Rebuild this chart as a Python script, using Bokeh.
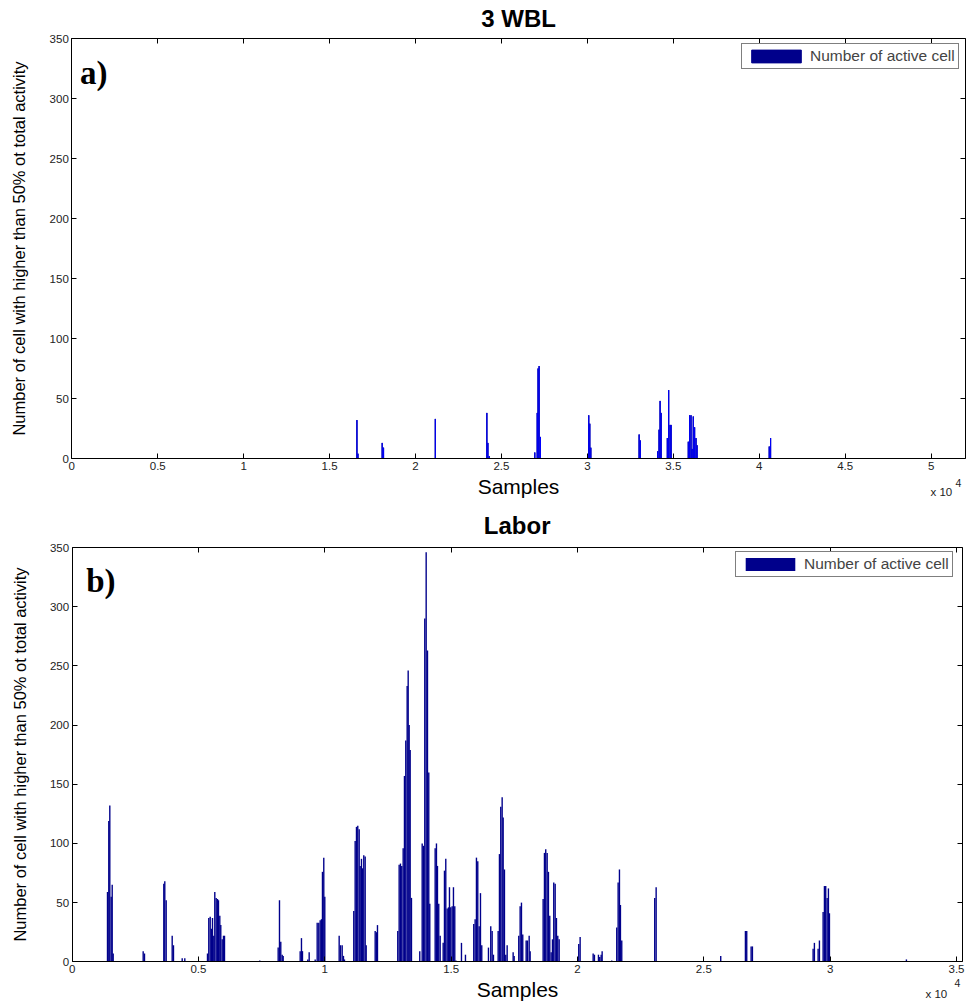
from bokeh.plotting import figure
from bokeh.models import (ColumnDataSource, Range1d, FixedTicker, LinearAxis,
                          Legend, LegendItem, Label, CustomLabelingPolicy)
from bokeh.layouts import column
from bokeh.embed import file_html
from bokeh.resources import INLINE

# ---------------- data ----------------
# Panel a) 3 WBL
wbl_samples = [16590, 16650, 18060, 18140, 21150, 24150, 24210, 24290,
               26940, 27080, 27130, 27190, 27270, 30080, 30140, 30200,
               33010, 33080, 34090, 34170, 34230, 34290, 34650, 34730,
               34810, 34870, 35870, 35950, 36030, 36090, 36160, 36240,
               36320, 36380, 40580, 40660]
wbl_counts = [32, 4, 13, 9, 33, 38, 13, 2,
              5, 38, 75, 77, 18, 36, 29, 9,
              20, 15, 6, 24, 48, 38, 17, 57,
              28, 28, 14, 36, 36, 8, 35, 26,
              17, 11, 10, 17]

# Panel b) Labor
labor_samples = [1401, 1452, 1492, 1547, 1587, 1626,
                 2813, 2865,
                 3629, 3668, 3723,
                 3961, 4012,
                 4357, 4460,
                 5358, 5409, 5465, 5516, 5556, 5607, 5647, 5702, 5754, 5793,
                 5845, 5884, 5940, 5991, 6031,
                 7427,
                 8155, 8207, 8258, 8314, 8353,
                 9026, 9077, 9117,
                 9327, 9382,
                 9620, 9699, 9762, 9818, 9869, 9908, 9960, 10000,
                 10569, 10621, 10688, 10739, 10779,
                 11147, 11202, 11254, 11305, 11361, 11400, 11452, 11491, 11543,
                 11598, 11638,
                 11994, 12045, 12085,
                 12888, 12943, 12995, 13046, 13102, 13153, 13205, 13260, 13300,
                 13339, 13379, 13430,
                 13759, 13854, 13905, 13957, 14012, 14064, 14115, 14155,
                 14368, 14419, 14459, 14510, 14566,
                 14685, 14736, 14788, 14843, 14895, 14934, 14985, 15041, 15092,
                 15144, 15190,
                 15409, 15567,
                 15895, 15950, 16002, 16054, 16109, 16161, 16212,
                 16477, 16568, 16623, 16675,
                 16861, 16912, 16964, 17019, 17059, 17110, 17162, 17217,
                 17454, 17494,
                 17676, 17731, 17783, 17834,
                 17969, 18020, 18088, 18127,
                 18641, 18693, 18744, 18800, 18851, 18903, 18958, 19010, 19061,
                 19117, 19168, 19220, 19275,
                 20050, 20105,
                 20620, 20671, 20830, 20881, 20937, 20976,
                 21356,
                 21554, 21609, 21661, 21700, 21752,
                 23057, 23113,
                 25669,
                 26646, 26698, 26872, 26923,
                 29325, 29376, 29523, 29575,
                 29721, 29773, 29824, 29880, 29931, 29971,
                 33017]
labor_counts = [59, 119, 132, 55, 65, 7,
                9, 7,
                66, 68, 52,
                22, 14,
                3, 3,
                7, 37, 38, 28, 37, 22, 59, 54, 53, 52,
                39, 31, 19, 22, 22,
                1,
                12, 52, 17, 6, 5,
                9, 20, 9,
                2, 8,
                2, 33, 33, 35, 36, 76, 88, 55,
                22, 14, 14, 5, 2,
                43, 102, 114, 115, 112, 81, 87, 79, 90,
                89, 14,
                26, 25, 31,
                26, 82, 83, 81, 96, 157, 187, 233, 246,
                200, 179, 54,
                9, 100, 98, 290, 346, 263, 160, 49,
                96, 100, 81, 49, 22,
                16, 77, 87, 45, 46, 63, 46, 47, 63,
                47, 1,
                16, 6,
                32, 36, 88, 85, 30, 58, 14,
                12, 30, 26, 6,
                26, 91, 131, 139, 122, 78, 6, 14,
                8, 5,
                22, 47, 50, 23,
                18, 18, 22, 9,
                53, 92, 95, 92, 76, 39, 8, 19, 67,
                66, 37, 22, 19,
                15, 21,
                7, 6, 6, 4, 6, 9,
                1,
                29, 67, 78, 48, 18,
                54, 63,
                5,
                26, 26, 13, 13,
                11, 16, 11, 18,
                42, 64, 64, 54, 62, 41,
                2]

y_ticks = [0, 50, 100, 150, 200, 250, 300, 350]
wbl_xticks = [0, 5000, 10000, 15000, 20000, 25000, 30000, 35000, 40000, 45000, 50000]
wbl_xlabels = ["0", "0.5", "1", "1.5", "2", "2.5", "3", "3.5", "4", "4.5", "5"]
labor_xticks = [0, 5000, 10000, 15000, 20000, 25000, 30000, 35000]
labor_xlabels = ["0", "0.5", "1", "1.5", "2", "2.5", "3", "3.5"]

FONT = "Liberation Sans"
NAVY = "#00008B"
BLUE = "#0000FF"
YLABEL = "Number of cell with higher than 50% ot total activity"
NO_LABELS = "for (const i of Array.from(indices)) indices.unset(i); return indices;"
W = 967


def style_axis(ax, hidden=False):
    ax.axis_line_color = "black"
    ax.axis_line_width = 1
    ax.major_tick_in = 5
    ax.major_tick_out = 0
    ax.major_tick_line_color = "black"
    ax.minor_tick_line_color = None
    ax.major_label_text_font = FONT
    ax.major_label_text_font_size = "11.5px"
    ax.major_label_text_color = "#222222"
    ax.axis_label_text_font = FONT
    ax.axis_label_text_font_style = "normal"
    ax.axis_label_text_color = "black"
    if hidden:
        ax.major_label_policy = CustomLabelingPolicy(code=NO_LABELS)
        ax.major_label_standoff = 0


def make_panel(title, xs, ys, xmax, xticks, xlabels, bar_color, bar_width,
               height, box_px, title_y, tag, tag_xy, exp_xy, legend_xy,
               navy_under):
    # box_px: pixel position of the axes box inside this canvas
    left, right, top, bottom = box_px
    xs_per_px = xmax / (right - left)
    ys_per_px = 350.0 / (bottom - top)
    x_range = Range1d(-left * xs_per_px, xmax + (W - right) * xs_per_px)
    y_range = Range1d(-(height - bottom) * ys_per_px, 350 + top * ys_per_px)
    p = figure(width=W, height=height, output_backend="svg",
               toolbar_location=None, tools="", title=None,
               x_range=x_range, y_range=y_range,
               min_border_top=0, min_border_bottom=0,
               min_border_left=0, min_border_right=0)
    p.xgrid.visible = False
    p.ygrid.visible = False
    p.outline_line_color = None
    p.background_fill_color = "white"
    p.border_fill_color = "white"

    src = ColumnDataSource(dict(x=xs, top=ys))
    if navy_under:
        legend_r = p.vbar(x="x", top="top", width=1, source=src,
                          fill_color=NAVY, line_color=NAVY)
        p.vbar(x="x", top="top", width=bar_width, source=src,
               fill_color=bar_color, line_color=None)
    else:
        legend_r = p.vbar(x="x", top="top", width=bar_width, source=src,
                          fill_color=bar_color, line_color=None)

    xa = p.xaxis[0]
    xa.fixed_location = 0
    xa.bounds = (0, xmax)
    xa.ticker = FixedTicker(ticks=xticks)
    xa.major_label_overrides = {t: l for t, l in zip(xticks, xlabels)}
    style_axis(xa)
    xa.axis_label = "Samples"
    xa.axis_label_text_font_size = "21px"
    xa.major_label_standoff = 3
    xa.axis_label_standoff = 2

    ya = p.yaxis[0]
    ya.fixed_location = 0
    ya.bounds = (0, 350)
    ya.ticker = FixedTicker(ticks=y_ticks)
    style_axis(ya)
    ya.axis_label = YLABEL
    ya.axis_label_text_font_size = "16.5px"
    ya.major_label_standoff = 3
    ya.axis_label_standoff = 18

    top_ax = LinearAxis(ticker=FixedTicker(ticks=xticks), fixed_location=350,
                        bounds=(0, xmax))
    style_axis(top_ax, hidden=True)
    p.add_layout(top_ax, "above")
    right_ax = LinearAxis(ticker=FixedTicker(ticks=y_ticks),
                          fixed_location=xmax, bounds=(0, 350))
    style_axis(right_ax, hidden=True)
    p.add_layout(right_ax, "right")

    p.add_layout(Label(x=xmax / 2, y=title_y, text=title, text_font=FONT,
                       text_font_style="bold", text_font_size="24px",
                       text_color="black", text_align="center",
                       text_baseline="middle"))

    legend = Legend(items=[LegendItem(label="Number of active cell",
                                      renderers=[legend_r])],
                    location=legend_xy)
    legend.border_line_color = "black"
    legend.border_line_width = 1
    legend.padding = 3
    legend.spacing = 0
    legend.margin = 0
    legend.glyph_width = 62
    legend.glyph_height = 16
    legend.label_standoff = 3
    legend.label_height = 14
    legend.label_text_font = FONT
    legend.label_text_font_size = "15.5px"
    legend.background_fill_alpha = 1
    p.add_layout(legend)

    p.add_layout(Label(x=tag_xy[0], y=tag_xy[1], text=tag,
                       text_font="Liberation Serif", text_font_style="bold",
                       text_font_size="33px", text_color="black",
                       text_baseline="top"))
    p.add_layout(Label(x=exp_xy[0], y=exp_xy[1], text="x 10",
                       text_font=FONT, text_font_size="11.5px",
                       text_color="#222222", text_baseline="middle"))
    p.add_layout(Label(x=exp_xy[2], y=exp_xy[3], text="4",
                       text_font=FONT, text_font_size="10.5px",
                       text_color="#222222", text_baseline="middle"))
    return p


p1 = make_panel("3 WBL", wbl_samples, wbl_counts, 52000, wbl_xticks,
                wbl_xlabels, BLUE, 60, 506, (71.3, 965.0, 38, 458), 366.7,
                "a)", (480, 336), (49960, -28.3, 51420, -20), (741, 437),
                True)
p2 = make_panel("Labor", labor_samples, labor_counts, 35225, labor_xticks,
                labor_xlabels, NAVY, 55, 495, (71.6, 961.7, 41, 455.3), 368.6,
                "b)", (560, 337), (33770, -27.6, 34920, -18.3), (735, 424),
                False)

layout = column(p1, p2, spacing=0)
open("out.html", "w").write(file_html(layout, INLINE))
